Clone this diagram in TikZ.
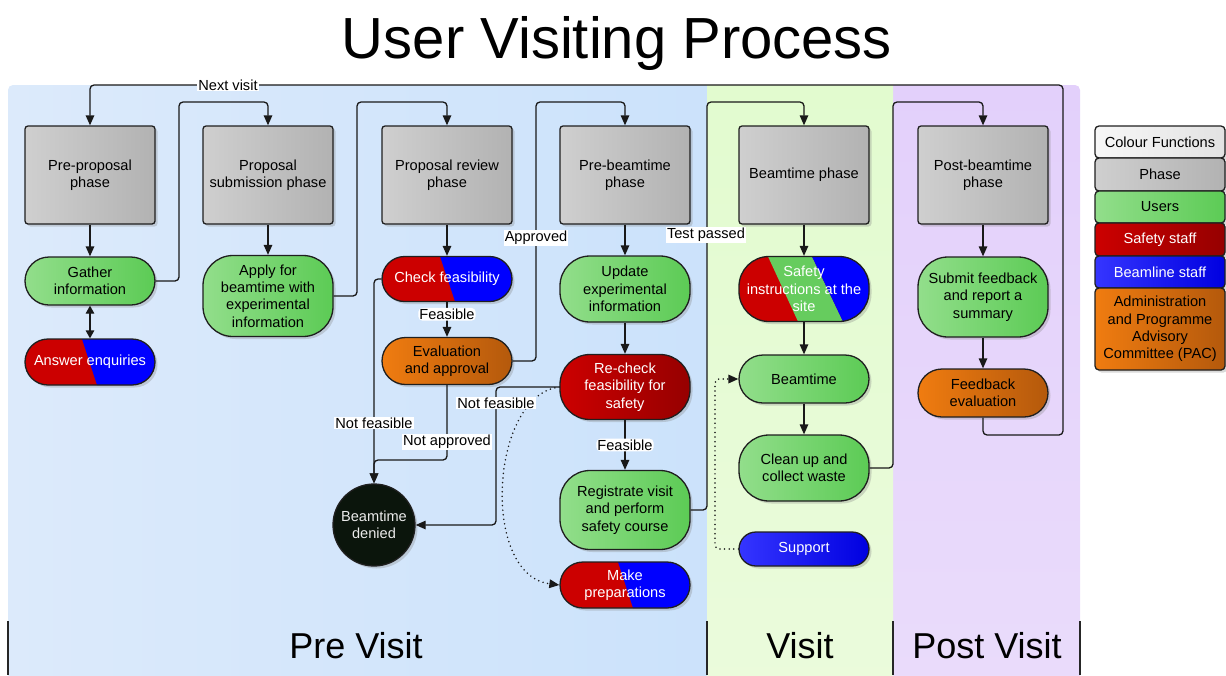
\documentclass[tikz,border=0pt]{standalone}
\usepackage{fontspec}
\setmainfont{Liberation Sans}
\usetikzlibrary{arrows.meta,shadows,calc}
\definecolor{gA}{HTML}{CFCFCF}
\definecolor{gB}{HTML}{B2B2B2}
\definecolor{uA}{HTML}{92DE8B}
\definecolor{uB}{HTML}{5CCB55}
\definecolor{rA}{HTML}{CC0000}
\definecolor{rB}{HTML}{960000}
\definecolor{bA}{HTML}{3535FF}
\definecolor{bB}{HTML}{0000E0}
\definecolor{oA}{HTML}{F07C10}
\definecolor{oB}{HTML}{B4590C}
\definecolor{sR}{HTML}{CC0000}
\definecolor{sB}{HTML}{0000FF}
\definecolor{sG}{HTML}{66CC5E}
\definecolor{wA}{HTML}{F7F7F7}
\definecolor{wB}{HTML}{E2E2E2}
\definecolor{preA}{HTML}{DCEAFB}
\definecolor{preB}{HTML}{CBE2FB}
\definecolor{visA}{HTML}{EBFBDC}
\definecolor{visB}{HTML}{E2FBCF}
\definecolor{postA}{HTML}{EADCFB}
\definecolor{postB}{HTML}{E3D0FB}
\definecolor{dk}{HTML}{0B150C}
\newcommand\nodefont{\fontsize{14.6}{17.3}\selectfont}
\newcommand\myBluePart[2]{\fill[sB, sharp corners] ($(path picture bounding box.north)+(#1pt,0pt)$) -- ($(path picture bounding box.north east)+(5pt,5pt)$) -- ($(path picture bounding box.south east)+(5pt,-5pt)$) -- ($(path picture bounding box.south)+(#2pt,0pt)$) -- cycle;}
\newcommand\myGreenPart[4]{\fill[sG, sharp corners] ($(path picture bounding box.north)+(#1pt,0pt)$) -- ($(path picture bounding box.north)+(#2pt,0pt)$) -- ($(path picture bounding box.south)+(#4pt,0pt)$) -- ($(path picture bounding box.south)+(#3pt,0pt)$) -- cycle;}
\tikzset{
  box/.style={draw=black!88, line width=1.3pt, align=center, font=\nodefont, inner sep=1pt, minimum width=130pt,
     drop shadow={shadow xshift=2.5pt, shadow yshift=-2.5pt, opacity=.3}},
  phasebox/.style={box, rounded corners=3pt, minimum height=98pt, left color=gA, right color=gB},
  userbox/.style={box, left color=uA, right color=uB},
  safebox/.style={box, left color=rA, right color=rB, text=white},
  admbox/.style={box, left color=oA, right color=oB},
  linebox/.style={box, left color=bA, right color=bB, text=white},
  splitbox/.style={box, fill=sR, text=white},
  legbox/.style={box, rounded corners=4pt},
  pill/.style 2 args={minimum height=#1pt, rounded corners=#2pt},
  conn/.style={draw=black!90, line width=1.3pt, rounded corners=4pt},
  arr/.style={conn, -{Triangle[length=10pt,width=8.5pt]}},
  dots/.style={conn, line cap=round, dash pattern=on 0pt off 4.6pt, line width=1.7pt},
  lbl/.style={fill=white, inner sep=1pt, font=\nodefont, text=black},
  sep/.style={draw=black!85, line width=1.2pt},
  big/.style={font=\fontsize{36}{40}\selectfont},
}
\begin{document}
\begin{tikzpicture}[x=1pt,y=-1pt]
\useasboundingbox (0,0) rectangle (1226,675);
% regions
\shade[left color=preA, right color=preB, rounded corners=5pt] (8,85) rectangle (720,700);
\shade[top color=postB, bottom color=postA, rounded corners=5pt] (880,85) rectangle (1080,700);
\shade[top color=visB, bottom color=visA] (707,85) rectangle (893,700);
\draw[sep] (8,621) -- (8,675);
\draw[sep] (707,621) -- (707,675);
\draw[sep] (893,621) -- (893,675);
\draw[sep] (1080,621) -- (1080,675);
% title and region names
\node[font=\fontsize{58}{60}\selectfont, anchor=base] (title) at (617,58) {User Visiting Process};
\node[big] (prev) at (356,646) {Pre Visit};
\node[big] (vis) at (800,646) {Visit};
\node[big] (postv) at (987,646) {Post Visit};
% phases
\node[phasebox] (pp) at (90,175) {Pre-proposal\\phase};
\node[phasebox] (ps) at (268,175) {Proposal\\submission phase};
\node[phasebox] (pr) at (447,175) {Proposal review\\phase};
\node[phasebox] (pb) at (625,175) {Pre-beamtime\\phase};
\node[phasebox] (bp) at (804,175) {Beamtime phase};
\node[phasebox] (po) at (983,175) {Post-beamtime\\phase};
% activities
\node[userbox, pill={48}{24}] (gather) at (90,281) {Gather\\information};
\node[splitbox, pill={46}{23}, path picture={\myBluePart{-8}{7}}] (answer) at (90,362) {Answer enquiries};
\node[userbox, pill={81}{30}] (apply) at (268,296) {Apply for\\beamtime with\\experimental\\information};
\node[splitbox, pill={45}{22.5}, path picture={\myBluePart{-7}{8}}] (check) at (447,279) {Check feasibility};
\node[admbox, pill={47}{23.5}] (eval) at (447,361) {Evaluation\\and approval};
\node[userbox, pill={66}{30}] (update) at (625,289) {Update\\experimental\\information};
\node[safebox, pill={65}{30}] (recheck) at (625,387) {Re-check\\feasibility for\\safety};
\node[userbox, pill={79}{30}] (reg) at (625,510) {Registrate visit\\and perform\\safety course};
\node[splitbox, pill={46}{23}, path picture={\myBluePart{-7}{8}}] (prep) at (625,585) {Make\\preparations};
\node[box, circle, minimum size=82pt, fill=dk, text=black!8] (denied) at (374,525) {Beamtime\\denied};
\node[splitbox, pill={65}{30}, path picture={\myGreenPart{-36}{8}{-6}{39}\myBluePart{8}{39}}] (safety) at (804,289) {Safety\\instructions at the\\site};
\node[userbox, pill={48}{24}] (beam) at (804,379) {Beamtime};
\node[userbox, pill={66}{30}] (clean) at (804,468) {Clean up and\\collect waste};
\node[linebox, pill={34}{17}] (support) at (804,549) {Support};
\node[userbox, pill={80}{30}] (submit) at (983,297) {Submit feedback\\and report a\\summary};
\node[admbox, pill={48}{24}] (fbeval) at (983,393) {Feedback\\evaluation};
% legend
\node[legbox, minimum height=32pt, left color=wA, right color=wB] (l1) at (1160,142) {Colour Functions};
\node[legbox, minimum height=33pt, left color=gA, right color=gB] (l2) at (1160,174.5) {Phase};
\node[legbox, minimum height=32pt, left color=uA, right color=uB] (l3) at (1160,207) {Users};
\node[legbox, minimum height=33pt, left color=rA, right color=rB, text=white] (l4) at (1160,239.5) {Safety staff};
\node[legbox, minimum height=32pt, left color=bA, right color=bB, text=white] (l5) at (1160,272) {Beamline staff};
\node[legbox, minimum height=82pt, left color=oA, right color=oB] (l6) at (1160,329) {Administration\\and Programme\\Advisory\\Committee (PAC)};
% connectors
\draw[arr] (pp) -- (gather);
\draw[arr] (ps) -- (apply);
\draw[arr] (pr) -- (check);
\draw[arr] (pb) -- (update);
\draw[arr] (bp) -- (safety);
\draw[arr] (po) -- (submit);
\draw[conn, {Triangle[length=8pt,width=8.5pt]}-{Triangle[length=8pt,width=8.5pt]}] (gather) -- (answer);
\draw[arr] (check) -- node[lbl, pos=.35]{Feasible} (eval);
\draw[arr] (update) -- (recheck);
\draw[arr] (recheck) -- node[lbl]{Feasible} (reg);
\draw[arr] (safety) -- (beam);
\draw[arr] (beam) -- (clean);
\draw[arr] (submit) -- (fbeval);
\draw[arr] (gather.east) -| (179,102) -| (ps.north);
\draw[arr] (apply.east) -| (357,102) -| (pr.north);
\draw[arr] (eval.east) -| (536,102) -| (pb.north);
\draw[arr] (reg.east) -| (707,102) -| (bp.north);
\draw[arr] (clean.east) -| (893,102) -| (po.north);
\draw[arr] (fbeval.south) |- (1063,435) |- (90,85) -- (pp.north);
\draw[arr] (check.west) -| (denied.north);
\draw[arr] (eval.south) |- (374,460) -- (denied.north);
\draw[arr] (recheck.west) -| (496,525) -- (denied.east);
\draw[dots, -{Triangle[length=10pt,width=8.5pt]}] (recheck.west) .. controls (490,395) and (480,575) .. (prep.west);
\draw[dots, -{Triangle[length=10pt,width=8.5pt]}] (support.west) -| (715,379) -- (beam.west);
% labels
\node[lbl] (lnext) at (228,85) {Next visit};
\node[lbl] (lappr) at (536,238) {Approved};
\node[lbl] (ltest) at (706,235) {Test passed};
\node[lbl] (lnf1) at (374,423) {Not feasible};
\node[lbl] (lna) at (447,442) {Not approved};
\node[lbl] (lnf2) at (496,403) {Not feasible};
\end{tikzpicture}
\end{document}
